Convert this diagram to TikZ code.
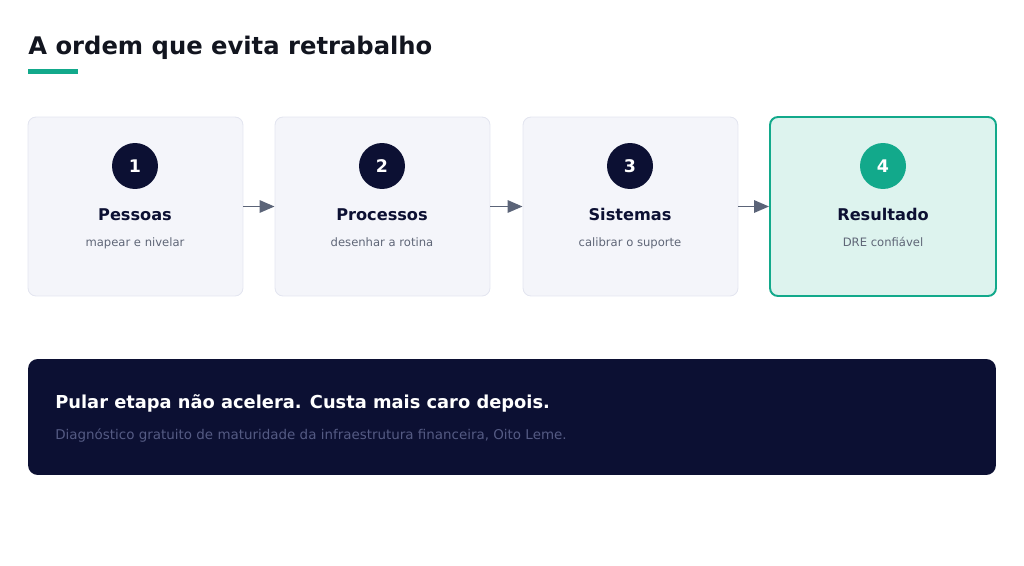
\documentclass[tikz,border=0pt]{standalone}
\usepackage{fontspec}
\setmainfont{DejaVu Sans}
\usetikzlibrary{arrows.meta}
\definecolor{ink}{HTML}{12151F}
\definecolor{navy}{HTML}{0C1033}
\definecolor{teal-accent}{HTML}{12A98B}
\definecolor{card-bg}{HTML}{F4F5FA}
\definecolor{card-line}{HTML}{E3E5F0}
\definecolor{done-bg}{HTML}{DDF3EE}
\definecolor{arrow-gray}{HTML}{5B6478}
\definecolor{muted}{HTML}{5F6677}
\definecolor{banner-muted}{HTML}{555B84}

\begin{document}
\begin{tikzpicture}[x=0.02cm, y=-0.02cm,
      card/.style={draw=card-line, fill=card-bg, line width=0.5pt,
          rounded corners=4.5pt, minimum width=4.3cm, minimum height=3.58cm},
      badge/.style={circle, fill=navy, minimum size=0.92cm, inner sep=0pt,
          text=white, font=\fontsize{9.9}{11}\selectfont\bfseries},
      cardtitle/.style={anchor=base, inner sep=0pt, text=navy,
          font=\fontsize{9.2}{11}\selectfont\bfseries},
      cardnote/.style={anchor=base, inner sep=0pt, text=muted,
          font=\fontsize{6.6}{8}\selectfont},
      flow/.style={-{Triangle[length=8.5pt, width=7pt]}, line width=1.1pt,
          arrow-gray}]
    \useasboundingbox (0,0) rectangle (1024,565);
    % heading
    \node[anchor=base west, inner sep=0pt, text=ink,
          font=\fontsize{13.8}{16}\selectfont\bfseries] (title) at (28,54)
          {A ordem que evita retrabalho};
    \draw[teal-accent, line width=2.3pt] (28,71.5) -- (78,71.5);
    % the four steps
    \node[card] (step1) at (135.5,206.5) {};
    \node[card] (step2) at (382.5,206.5) {};
    \node[card] (step3) at (630.5,206.5) {};
    \node[card, draw=teal-accent, fill=done-bg, line width=1.1pt,
          minimum width=4.52cm] (step4) at (883,206.5) {};
    \node[badge] (num1) at (135,166) {1};
    \node[badge] (num2) at (382,166) {2};
    \node[badge] (num3) at (630,166) {3};
    \node[badge, fill=teal-accent] (num4) at (883,166) {4};
    \node[cardtitle] (name1) at (135,220) {Pessoas};
    \node[cardtitle] (name2) at (382,220) {Processos};
    \node[cardtitle] (name3) at (630,220) {Sistemas};
    \node[cardtitle] (name4) at (883,220) {Resultado};
    \node[cardnote] (note1) at (135,246) {mapear e nivelar};
    \node[cardnote] (note2) at (382,246) {desenhar a rotina};
    \node[cardnote] (note3) at (630,246) {calibrar o suporte};
    \node[cardnote] (note4) at (883,246) {DRE confiável};
    \draw[flow] (step1) -- (step2);
    \draw[flow] (step2) -- (step3);
    \draw[flow] (step3) -- (step4);
    % closing banner
    \node[fill=navy, rounded corners=5.5pt, minimum width=19.36cm,
          minimum height=2.32cm] (banner) at (512,417) {};
    \node[anchor=base west, inner sep=0pt, text=white,
          font=\fontsize{10.15}{12}\selectfont\bfseries] (punch) at (55,408)
          {Pular etapa não acelera. Custa mais caro depois.};
    \node[anchor=base west, inner sep=0pt, text=banner-muted,
          font=\fontsize{7.65}{10}\selectfont] (cta) at (55,439)
          {Diagnóstico gratuito de maturidade da infraestrutura financeira, Oito Leme.};
  \end{tikzpicture}
\end{document}
